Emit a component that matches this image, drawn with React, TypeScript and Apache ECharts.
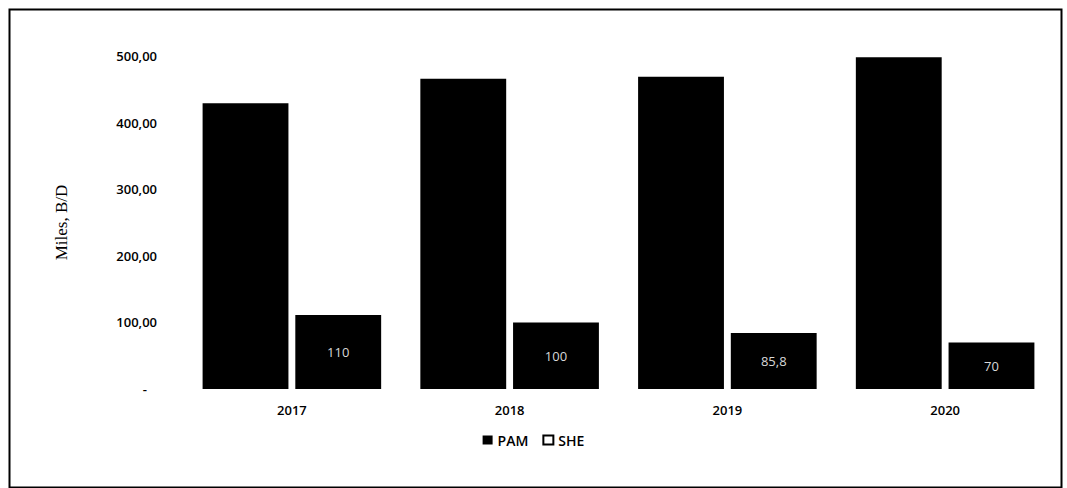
import React, { useEffect, useRef } from "react";
import * as echarts from "echarts";

const categories = ["2017", "2018", "2019", "2020"];
const pamValues = [429, 466, 469, 498];
const sheValues = [111, 100, 84, 70];
const sheLabels = ["110", "100", "85,8", "70"];
const yTicks = [0, 100, 200, 300, 400, 500];

export default function App() {
  const ref = useRef<HTMLDivElement>(null);
  useEffect(() => {
    document.body.style.margin = "0";
    const chart = echarts.init(ref.current!, null, { renderer: "svg" });
    chart.setOption({
      animation: false,
      backgroundColor: "#ffffff",
      graphic: [
        {
          type: "rect",
          shape: { x: 9.5, y: 9.5, width: 1052, height: 478 },
          style: { fill: "none", stroke: "#000", lineWidth: 2 },
          silent: true,
        },
      ],
      grid: { left: 183, right: 13, top: 56, bottom: 99, containLabel: false },
      legend: {
        bottom: 36,
        left: "center",
        itemWidth: 10,
        itemHeight: 9,
        itemGap: 14,
        textStyle: { fontFamily: "Open Sans", fontSize: 14, color: "#000", fontWeight: 600 },
        data: [
          { name: "PAM", icon: "rect" },
          { name: "SHE", icon: "rect", itemStyle: { color: "#fff", borderColor: "#000", borderWidth: 2 } },
        ],
      },
      xAxis: {
        type: "category",
        data: categories,
        axisLine: { show: false },
        axisTick: { show: false },
        axisLabel: { fontFamily: "Open Sans", fontWeight: 600, fontSize: 13, color: "#000", margin: 14 },
      },
      yAxis: {
        type: "value",
        min: yTicks[0],
        max: yTicks[yTicks.length - 1],
        interval: 100,
        name: "Miles, B/D",
        nameLocation: "middle",
        nameGap: 113,
        nameRotate: 90,
        nameTextStyle: { fontFamily: "Liberation Serif", fontSize: 17, color: "#000" },
        splitLine: { show: false },
        axisLine: { show: false },
        axisTick: { show: false },
        axisLabel: {
          fontFamily: "Open Sans",
          fontWeight: 600,
          fontSize: 13,
          color: "#000",
          margin: 26,
          formatter: (v: number) => (v === 0 ? "-   " : v.toFixed(2).replace(".", ",")),
        },
      },
      series: [
        {
          name: "PAM",
          type: "bar",
          data: pamValues,
          barGap: "8%",
          barCategoryGap: "18%",
          itemStyle: { color: "#000" },
        },
        {
          name: "SHE",
          type: "bar",
          data: sheValues,
          itemStyle: { color: "#000" },
          label: {
            show: true,
            position: "inside",
            color: "#d8d8d8",
            fontFamily: "Open Sans",
            fontSize: 13,
            formatter: (p: any) => sheLabels[p.dataIndex],
          },
        },
      ],
    });
    return () => chart.dispose();
  }, []);
  return <div ref={ref} style={{ position: "fixed", left: 0, top: 0, width: 1067, height: 488 }} />;
}
